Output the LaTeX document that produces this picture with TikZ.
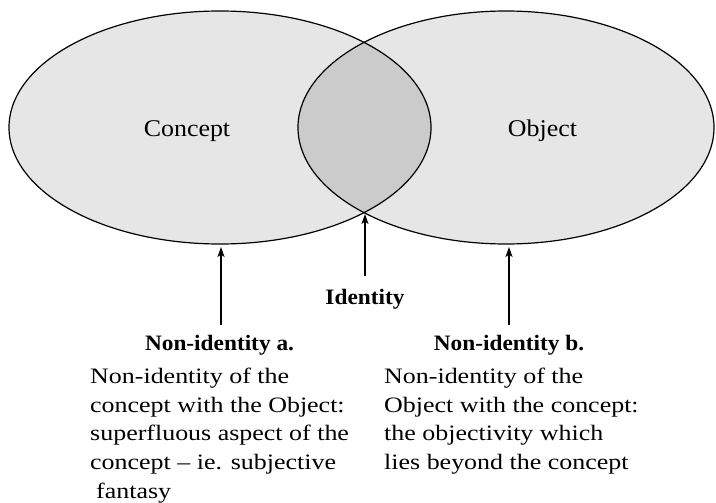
\documentclass[tikz,border=0pt]{standalone}
\usepackage{fontspec}
\setmainfont[FakeStretch=1.18]{Liberation Serif}
\newfontfamily\labelfont[FakeStretch=1.08]{Liberation Serif}
\newfontfamily\headfont[FakeStretch=1.06]{Liberation Serif}
\usetikzlibrary{arrows.meta}
\definecolor{lightfill}{HTML}{E6E6E6}
\definecolor{darkfill}{HTML}{CBCBCB}
\begin{document}
\begin{tikzpicture}[x=1pt,y=-1pt,
  outline/.style={draw=black,line width=1.2pt},
  arr/.style={draw=black,line width=1.2pt,-{Stealth[length=10pt,width=7pt,inset=2.5pt]}},
  lbl/.style={inner sep=0pt,anchor=base,font=\labelfont\fontsize{24}{28}\selectfont},
  head/.style={inner sep=0pt,anchor=base,font=\headfont\fontsize{22}{26}\selectfont\bfseries},
  para/.style={inner sep=0pt,align=left,anchor=north west,font=\fontsize{22}{28.6}\selectfont}]
\useasboundingbox (0,0) rectangle (716,503);
% ellipses
\fill[lightfill] (220,127.5) ellipse [x radius=211, y radius=116.5];
\fill[lightfill] (506,127.5) ellipse [x radius=208, y radius=116.5];
\begin{scope}
  \clip (220,127.5) ellipse [x radius=211, y radius=116.5];
  \fill[darkfill] (506,127.5) ellipse [x radius=208, y radius=116.5];
\end{scope}
\draw[outline] (220,127.5) ellipse [x radius=211, y radius=116.5];
\draw[outline] (506,127.5) ellipse [x radius=208, y radius=116.5];
% anchors on the ellipses
\coordinate (Lbot) at (221,247);
\coordinate (Rbot) at (509,247);
\coordinate (Isect) at (365,214);
% labels
\node[lbl] (concept) at (187,137) {Concept};
\node[lbl] (object) at (542.5,136) {Object};
\node[head] (identity) at (365,304) {Identity};
\node[head] (na) at (219.5,350) {Non-identity a.};
\node[head] (nb) at (509,350) {Non-identity b.};
\node[para] (pa) at (90,368) {Non-identity of the\\concept with the Object:\\superfluous aspect of the\\concept -- ie. subjective\\\hspace*{6pt}fantasy};
\node[para] (pb) at (384,368) {Non-identity of the\\Object with the concept:\\the objectivity which\\lies beyond the concept};
% arrows
\draw[arr] ([yshift=10pt]na.north -| Lbot) -- (Lbot);
\draw[arr] ([yshift=13pt]identity.north) -- (Isect);
\draw[arr] ([yshift=10pt]nb.north -| Rbot) -- (Rbot);
\end{tikzpicture}
\end{document}
